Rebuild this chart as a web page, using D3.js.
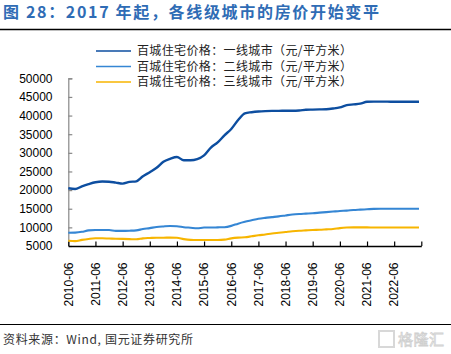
<!DOCTYPE html>
<html><head><meta charset="utf-8">
<script src="https://cdn.jsdelivr.net/npm/d3@7/dist/d3.min.js"></script>
<style>
body{margin:0;background:#fff;}
svg{display:block;}
</style></head>
<body>
<script>
// quarterly dates 2010-06 .. 2023-06
const dates = ["2010-06","2010-09","2010-12","2011-03","2011-06","2011-09","2011-12","2012-03","2012-06","2012-09","2012-12","2013-03","2013-06","2013-09","2013-12","2014-03","2014-06","2014-09","2014-12","2015-03","2015-06","2015-09","2015-12","2016-03","2016-06","2016-09","2016-12","2017-03","2017-06","2017-09","2017-12","2018-03","2018-06","2018-09","2018-12","2019-03","2019-06","2019-09","2019-12","2020-03","2020-06","2020-09","2020-12","2021-03","2021-06","2021-09","2021-12","2022-03","2022-06","2022-09","2022-12","2023-03","2023-05"];
const tier1 = [20500,20300,21000,21600,22100,22300,22250,22000,21750,22200,22350,23700,24800,26000,27600,28400,28900,28000,28000,28300,29300,31400,32800,34700,36400,38800,40600,40900,41100,41200,41250,41250,41300,41300,41350,41550,41600,41650,41700,41900,42200,42800,43000,43200,43700,43750,43750,43750,43700,43700,43700,43700,43700];
const tier2 = [8570,8600,8800,9200,9290,9290,9290,9050,9050,9100,9200,9550,9800,10100,10250,10350,10300,10050,9900,9750,9950,9950,10000,10050,10400,11000,11500,11900,12300,12550,12750,12950,13200,13450,13600,13700,13800,13950,14100,14250,14400,14500,14650,14750,14850,14950,15000,15000,15000,15000,15000,15000,15000];
const tier3 = [6420,6300,6650,6900,7060,7060,7000,6950,6900,6850,6800,7050,7150,7230,7230,7250,7200,6850,6650,6600,6600,6600,6600,6700,7050,7250,7350,7600,7870,8100,8350,8550,8750,8950,9100,9200,9300,9350,9450,9550,9800,9950,10000,10000,10000,9950,9950,9950,9950,9950,9950,9950,9950];
const seriesNames = ["百城住宅价格：一线城市（元/平方米）","百城住宅价格：二线城市（元/平方米）","百城住宅价格：三线城市（元/平方米）"];
const seriesColors = ["#0d4ea0","#3586d4","#f7b500"];
const yTicks = [5000,10000,15000,20000,25000,30000,35000,40000,45000,50000];
const xTickDates = ["2010-06","2011-06","2012-06","2013-06","2014-06","2015-06","2016-06","2017-06","2018-06","2019-06","2020-06","2021-06","2022-06","2023-06"];
const xTickLabels = ["2010-06","2011-06","2012-06","2013-06","2014-06","2015-06","2016-06","2017-06","2018-06","2019-06","2020-06","2021-06","2022-06"];
const titleText = "图 28：2017 年起，各线级城市的房价开始变平";
const sourceText = "资料来源：Wind, 国元证券研究所";

const W = 451, H = 354;
const parse = d3.timeParse("%Y-%m");
const svg = d3.select("body").append("svg").attr("width", W).attr("height", H);

// title
svg.append("text").attr("x", 3).attr("y", 18)
  .attr("font-family", "'Noto Sans CJK SC', sans-serif").attr("font-weight", "bold")
  .attr("font-size", 16).attr("fill", "#2f6cb5")
  .attr("textLength", 376).attr("lengthAdjust", "spacing")
  .text(titleText);
svg.append("line").attr("x1", 0).attr("x2", W).attr("y1", 29.5).attr("y2", 29.5)
  .attr("stroke", "#000").attr("stroke-width", 1.5);

const x = d3.scaleTime().domain([parse("2010-06"), parse("2023-06")]).range([68.3, 421.3]);
const y = d3.scaleLinear().domain([5000, 50000]).range([246, 78.3]);

// y axis
const yAxis = svg.append("g").attr("transform", "translate(68.3,0)")
  .call(d3.axisRight(y).tickValues(yTicks).tickSize(4).tickFormat(""));
yAxis.select(".domain").attr("stroke", "#888").attr("stroke-width", 1.2);
yAxis.selectAll(".tick line").attr("stroke", "#888").attr("stroke-width", 1.2);
svg.append("g").selectAll("text").data(yTicks).join("text")
  .attr("x", 52.5).attr("y", d => y(d)).attr("dy", "0.36em")
  .attr("text-anchor", "end").attr("font-family", "'Liberation Sans', Arial, sans-serif")
  .attr("font-size", 12).attr("fill", "#000").text(d => d);

// x axis
const xAxis = svg.append("g").attr("transform", "translate(0,246)")
  .call(d3.axisTop(x).tickValues(xTickDates.map(parse)).tickSize(4.5).tickSizeOuter(0).tickFormat(""));
xAxis.select(".domain").attr("stroke", "#000").attr("stroke-width", 1.3);
xAxis.selectAll(".tick line").attr("stroke", "#000").attr("stroke-width", 1.2);
svg.append("g").selectAll("text").data(xTickLabels).join("text")
  .attr("transform", d => `translate(${x(parse(d))},262.5) rotate(-90)`)
  .attr("text-anchor", "end").attr("dy", "0.36em")
  .attr("font-family", "'Liberation Sans', Arial, sans-serif")
  .attr("font-size", 12).attr("fill", "#000").text(d => d);

// lines
const all = [tier1, tier2, tier3];
const line = d3.line().x((d, i) => x(parse(dates[i]))).y(d => y(d)).curve(d3.curveMonotoneX);
[2,1,0].forEach(k => {
  svg.append("path").datum(all[k]).attr("d", line)
    .attr("fill", "none").attr("stroke", seriesColors[k])
    .attr("stroke-width", k === 0 ? 2.4 : 2.1).attr("stroke-linejoin", "round");
});

// legend
const legY = [51, 66.5, 82];
seriesNames.forEach((n, i) => {
  svg.append("line").attr("x1", 96).attr("x2", 131).attr("y1", legY[i]).attr("y2", legY[i])
    .attr("stroke", seriesColors[i]).attr("stroke-width", 1.5);
  svg.append("text").attr("x", 137).attr("y", legY[i]).attr("dy", "0.36em")
    .attr("font-family", "'Noto Sans CJK SC', sans-serif").attr("font-size", 12)
    .attr("textLength", 215).attr("lengthAdjust", "spacing")
    .attr("fill", "#222").text(n);
});

// bottom rule and source
svg.append("line").attr("x1", 0).attr("x2", W).attr("y1", 324.5).attr("y2", 324.5)
  .attr("stroke", "#000").attr("stroke-width", 1);
svg.append("text").attr("x", 3).attr("y", 340).attr("dy", "0.36em")
  .attr("font-family", "'Noto Sans CJK SC', sans-serif").attr("font-size", 12)
  .attr("textLength", 190).attr("lengthAdjust", "spacing")
  .attr("fill", "#333").text(sourceText);

// watermark
svg.append("rect").attr("x", 379).attr("y", 331).attr("width", 15).attr("height", 16)
  .attr("fill", "none").attr("stroke", "#d8d8d8").attr("stroke-width", 2);
svg.append("text").attr("x", 398).attr("y", 340).attr("dy", "0.36em")
  .attr("font-family", "'Noto Sans CJK SC', sans-serif").attr("font-size", 15)
  .attr("textLength", 46).attr("lengthAdjust", "spacing")
  .attr("fill", "#fff").attr("stroke", "#d0d0d0").attr("stroke-width", 0.8).text("格隆汇");
</script>
</body></html>
